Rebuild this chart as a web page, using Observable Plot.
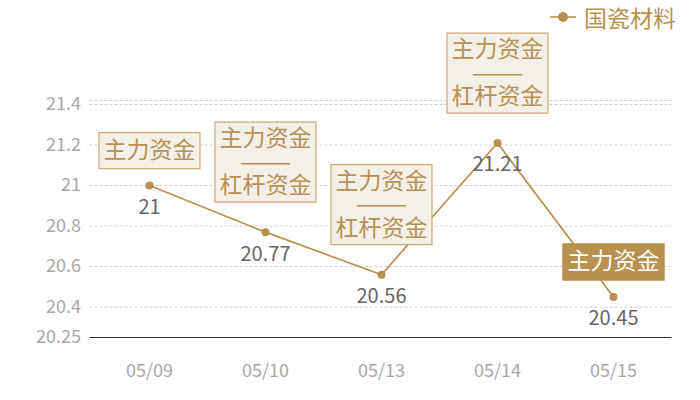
<!DOCTYPE html>
<html><head><meta charset="utf-8">
<script src="https://cdn.jsdelivr.net/npm/d3@7"></script>
<script src="https://cdn.jsdelivr.net/npm/@observablehq/plot@0.6"></script>
<style>
  body { margin: 0; background: #fff; }
  #wrap { position: relative; width: 700px; height: 400px; font-family: "Noto Sans CJK SC", "Noto Sans", sans-serif; }
  #legend { position: absolute; top: 3px; right: 24px; display: flex; align-items: center; color: #b8914f; font-size: 23px; line-height: 28px; }
  #legend svg { margin-right: 8px; }
  #chart { position: absolute; left: 0; top: 0; }
</style>
</head><body>
<div id="wrap"><div id="chart"></div><div id="legend"></div></div>
<script>
// ---- data ----
const seriesName = "国瓷材料";
const dates = ["05/09", "05/10", "05/13", "05/14", "05/15"];
const values = [21, 20.77, 20.56, 21.21, 20.45];
const notes = ["主力资金", "主力资金\n——\n杠杆资金", "主力资金\n——\n杠杆资金", "主力资金\n——\n杠杆资金", "主力资金"];
const highlighted = [false, false, false, false, true];
const yTicks = [20.25, 20.4, 20.6, 20.8, 21, 21.2, 21.4];
const gridTicks = [20.4, 20.6, 20.8, 21, 21.2, 21.4];
const yMin = 20.25, yMax = 21.42;

// ---- style ----
const gold = "#b8904f";
const boxFill = "#f3efe9";
const boxStroke = "#cba874";
const font = '"Noto Sans CJK SC", "Noto Sans", sans-serif';

const data = dates.map((d, i) => ({date: d, value: values[i], note: notes[i], hi: highlighted[i], lines: notes[i].split("\n").length}));
const single = data.filter(d => d.lines === 1 && !d.hi);
const singleHi = data.filter(d => d.lines === 1 && d.hi);
const multi = data.filter(d => d.lines > 1);

const boxSingle = {draw(ctx) { ctx.rect(-50.5, -18, 101, 36); }};
const boxMulti = {draw(ctx) { ctx.rect(-50.5, -40, 101, 80); }};

const plot = Plot.plot({
  width: 700, height: 400,
  marginTop: 100, marginBottom: 63, marginLeft: 89.5, marginRight: 28.5,
  style: {fontFamily: font, background: "transparent", overflow: "visible"},
  x: {type: "point", domain: dates, padding: 0.5, label: null},
  y: {domain: [yMin, yMax], label: null},
  marks: [
    Plot.axisX({tickSize: 0, tickPadding: 27, fontSize: 18, fill: "#a8a8a8", label: null}),
    Plot.axisY({ticks: yTicks, tickFormat: d => String(d), tickSize: 0, tickPadding: 9, fontSize: 18, fill: "#a8a8a8", label: null}),
    Plot.ruleY(gridTicks.concat([yMax]), {stroke: "#cfcfcf", strokeDasharray: "3,2"}),
    Plot.ruleY([yMin], {stroke: "#333", strokeWidth: 1.2}),
    Plot.line(data, {x: "date", y: "value", stroke: gold, strokeWidth: 1.7}),
    Plot.dot(data, {x: "date", y: "value", r: 4, fill: gold}),
    Plot.text(data, {x: "date", y: "value", text: d => String(d.value), dy: 22, fill: "#666", fontSize: 20}),
    Plot.dot(single, {x: "date", y: "value", dy: -35, symbol: boxSingle, r: 5, fill: boxFill, stroke: boxStroke, strokeWidth: 1.2}),
    Plot.dot(multi, {x: "date", y: "value", dy: -70, symbol: boxMulti, r: 5, fill: boxFill, stroke: boxStroke, strokeWidth: 1.2}),
    Plot.dot(singleHi, {x: "date", y: "value", dy: -35, symbol: boxSingle, r: 5, fill: gold, stroke: gold}),
    Plot.text(single, {x: "date", y: "value", text: "note", dy: -35, fill: gold, fontSize: 23}),
    Plot.text(multi, {x: "date", y: "value", text: "note", dy: -70, fill: gold, fontSize: 23, lineHeight: 1.02}),
    Plot.text(singleHi, {x: "date", y: "value", text: "note", dy: -35, fill: "#fff", fontSize: 23})
  ]
});
document.getElementById("chart").appendChild(plot);

// stretch the separator dashes to full width like the reference
d3.select(plot).selectAll("tspan").filter(function() { return this.textContent === "——"; })
  .attr("textLength", 52).attr("lengthAdjust", "spacingAndGlyphs");

// legend
const lg = document.getElementById("legend");
lg.innerHTML = `<svg width="26" height="14"><line x1="0" y1="7" x2="26" y2="7" stroke="${gold}" stroke-width="2" opacity="0.8"/><circle cx="13" cy="7" r="5" fill="${gold}"/></svg><span>${seriesName}</span>`;
</script>
</body></html>
